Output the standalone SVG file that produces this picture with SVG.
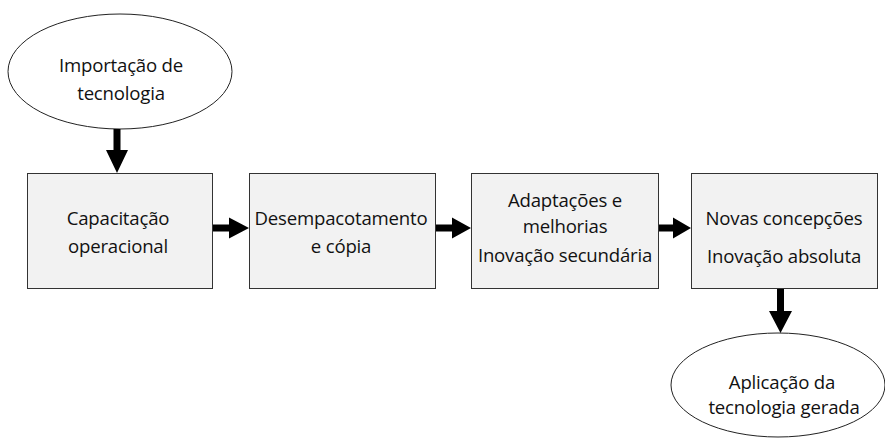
<svg xmlns="http://www.w3.org/2000/svg" width="885" height="446" viewBox="0 0 885 446">
  <style>
    .box { fill: #f2f2f2; stroke: #333333; stroke-width: 1; }
    .oval { fill: #ffffff; stroke: #222222; stroke-width: 1; }
    .lbl { font-family: "Open Sans", "Noto Sans", sans-serif; font-size: 18.6px; letter-spacing: -0.2px; fill: #111111; text-anchor: middle; }
    .shaft { fill: #000000; }
  </style>

  <g id="importacao">
    <ellipse class="oval" cx="120" cy="71.5" rx="112" ry="57.5"/>
    <text class="lbl" x="121" y="72">Importação de</text>
    <text class="lbl" x="121" y="100">tecnologia</text>
  </g>

  <g id="capacitacao">
    <rect class="box" x="27.5" y="173.5" width="185" height="115"/>
    <text class="lbl" x="118" y="225">Capacitação</text>
    <text class="lbl" x="118" y="253">operacional</text>
  </g>

  <g id="desempacotamento">
    <rect class="box" x="249.5" y="173.5" width="186" height="115"/>
    <text class="lbl" x="341" y="225">Desempacotamento</text>
    <text class="lbl" x="341" y="253">e cópia</text>
  </g>

  <g id="adaptacoes">
    <rect class="box" x="471.5" y="173.5" width="187" height="115"/>
    <text class="lbl" x="565" y="207">Adaptações e</text>
    <text class="lbl" x="565" y="233">melhorias</text>
    <text class="lbl" x="565" y="262">Inovação secundária</text>
  </g>

  <g id="novas-concepcoes">
    <rect class="box" x="691.5" y="173.5" width="186" height="115"/>
    <text class="lbl" x="784" y="225">Novas concepções</text>
    <text class="lbl" x="784" y="263">Inovação absoluta</text>
  </g>

  <g id="aplicacao">
    <ellipse class="oval" cx="778" cy="385" rx="107" ry="52"/>
    <text class="lbl" x="782" y="389">Aplicação da</text>
    <text class="lbl" x="784" y="414">tecnologia gerada</text>
  </g>

  <g id="connectors">
    <!-- top: oval to first box -->
    <polygon class="shaft" points="113.5,129 120.5,129 120.5,150 128,150 117,173 106,150 113.5,150"/>
    <!-- horizontal chain -->
    <polygon class="shaft" points="213,224.5 229,224.5 229,217.5 249,228 229,238.5 229,231.5 213,231.5"/>
    <polygon class="shaft" points="436,224.5 452,224.5 452,217.5 471,228 452,238.5 452,231.5 436,231.5"/>
    <polygon class="shaft" points="659,224.5 673,224.5 673,217.5 691,228 673,238.5 673,231.5 659,231.5"/>
    <!-- bottom: last box to outcome oval -->
    <polygon class="shaft" points="777,289 784,289 784,311 792,311 780.5,333 769,311 777,311"/>
  </g>
</svg>
